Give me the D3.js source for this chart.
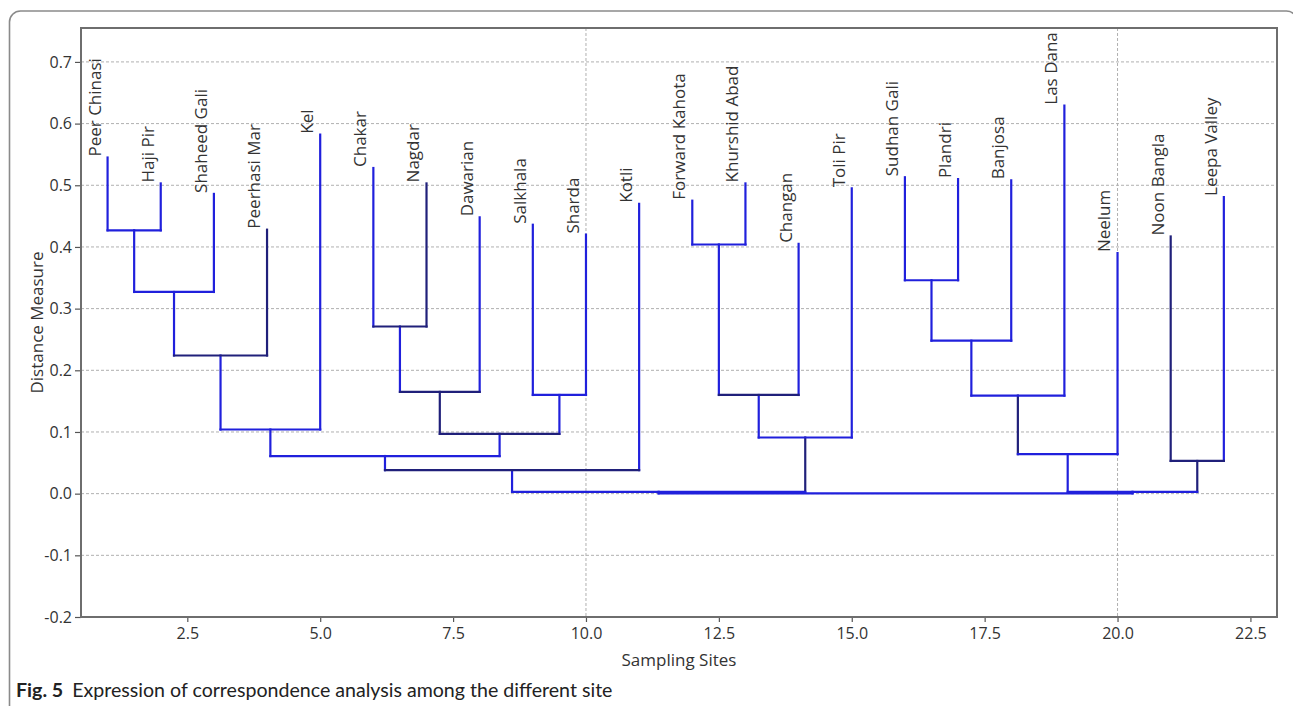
<!DOCTYPE html>
<html><head><meta charset="utf-8">
<script src="https://cdn.jsdelivr.net/npm/d3@7"></script>
<style>body{margin:0;background:#fff} svg{display:block}</style>
</head><body>
<svg id="chart" width="1293" height="706"></svg>
<script>
// ---------- data ----------
const sites = ["Peer Chinasi","Haji Pir","Shaheed Gali","Peerhasi Mar","Kel","Chakar","Nagdar","Dawarian","Salkhala","Sharda","Kotli","Forward Kahota","Khurshid Abad","Changan","Toli Pir","Sudhan Gali","Plandri","Banjosa","Las Dana","Neelum","Noon Bangla","Leepa Valley"];
const sitePositions = [1,2,3,4,5,6,7,8,9,10,11,12,13,14,15,16,17,18,19,20,21,22];
const leafHeights = [0.545,0.503,0.486,0.428,0.582,0.528,0.503,0.448,0.436,0.420,0.470,0.475,0.503,0.405,0.495,0.513,0.510,0.508,0.629,0.390,0.417,0.481];
// linkage: node ids 0..21 are sites, merge k creates node 22+k
const mergeLeft   = [0, 22, 23, 24, 5, 26, 8, 27, 25, 30, 11, 32, 33, 15, 35, 36, 37, 20, 31, 38, 40];
const mergeRight  = [1, 2, 3, 4, 6, 7, 9, 28, 29, 10, 12, 13, 14, 16, 17, 18, 19, 21, 34, 39, 41];
const mergeHeights= [0.427,0.327,0.224,0.104,0.271,0.165,0.160,0.097,0.061,0.038,0.404,0.160,0.091,0.346,0.248,0.159,0.064,0.053,0.003,0.003,0.0005];
const xTicks = [2.5,5,7.5,10,12.5,15,17.5,20,22.5];
const yTicks = [-0.2,-0.1,0,0.1,0.2,0.3,0.4,0.5,0.6,0.7];
const xGrid = [10,20];

// ---------- style ----------
const BLUE = "#2020dc", NAVY = "#20207a";
const darkVerticals = new Set([3, 6, 27, 34, 37, 20, 39]);
const darkHorizontals = new Set([24, 26, 27, 29, 31, 33, 39]);
const FONT = "'Open Sans', 'Noto Sans', sans-serif";

const svg = d3.select("#chart");
const L = 81, R = 1277, T = 28, B = 617;
const x = d3.scaleLinear().domain([0.5, 23]).range([L, R]);
const y = d3.scaleLinear().domain([-0.2, 0.755]).range([B, T]);

// outer rounded frame
svg.append("rect").attr("x", 9.5).attr("y", 11).attr("width", 1288).attr("height", 720)
  .attr("rx", 11).attr("fill", "none").attr("stroke", "#8a8a8a").attr("stroke-width", 1.6);

// gridlines
const g = svg.append("g");
g.selectAll(".hg").data(yTicks.filter(d => d > -0.2)).join("line")
  .attr("x1", L).attr("x2", R).attr("y1", d => y(d)).attr("y2", d => y(d))
  .attr("stroke", "#b0b0b0").attr("stroke-width", 1).attr("stroke-dasharray", "3,2");
g.selectAll(".vg").data(xGrid).join("line")
  .attr("y1", T).attr("y2", B).attr("x1", d => x(d)).attr("x2", d => x(d))
  .attr("stroke", "#b0b0b0").attr("stroke-width", 1).attr("stroke-dasharray", "3,2");

// axes
const yAxis = svg.append("g").attr("transform", `translate(${L},0)`)
  .call(d3.axisLeft(y).tickValues(yTicks).tickFormat(d => d.toFixed(1)).tickSize(6).tickPadding(3));
const xAxis = svg.append("g").attr("transform", `translate(0,${B})`)
  .call(d3.axisBottom(x).tickValues(xTicks).tickFormat(d => d.toFixed(1)).tickSize(5).tickPadding(6));
[yAxis, xAxis].forEach(a => {
  a.select(".domain").remove();
  a.selectAll(".tick line").attr("stroke", "#555").attr("stroke-width", 1.2);
  a.selectAll(".tick text").attr("fill", "#333").style("font-family", FONT).style("font-size", "16px");
});

// dendrogram geometry
const nLeaves = sites.length;
const nodeX = sitePositions.map(p => x(p));
const nodeY = leafHeights.map(h => y(h));
const parentOf = {};
mergeLeft.forEach((a, k) => {
  const id = nLeaves + k, b = mergeRight[k];
  nodeX[id] = (nodeX[a] + nodeX[b]) / 2;
  nodeY[id] = y(mergeHeights[k]);
  parentOf[a] = id; parentOf[b] = id;
});
const segs = [];
for (let id = 0; id < nodeX.length; id++) {
  if (parentOf[id] !== undefined) {
    segs.push({x1: nodeX[id], y1: nodeY[id], x2: nodeX[id], y2: nodeY[parentOf[id]], dark: darkVerticals.has(id)});
  }
}
mergeLeft.forEach((a, k) => {
  const id = nLeaves + k, b = mergeRight[k];
  segs.push({x1: nodeX[a], y1: nodeY[id], x2: nodeX[b], y2: nodeY[id], dark: darkHorizontals.has(id)});
});
svg.append("g").selectAll("line").data(segs).join("line")
  .attr("x1", d => d.x1).attr("y1", d => d.y1).attr("x2", d => d.x2).attr("y2", d => d.y2)
  .attr("stroke", d => d.dark ? NAVY : BLUE).attr("stroke-width", 2.2).attr("stroke-linecap", "square");

// leaf labels
svg.append("g").selectAll("text").data(sites).join("text")
  .attr("transform", (d, i) => `translate(${nodeX[i] - 13},${nodeY[i] - 1}) rotate(-90)`)
  .attr("dy", "0.35em").attr("text-anchor", "start")
  .attr("fill", "#333").style("font-family", FONT).style("font-size", "17px")
  .text(d => d);

// plot frame
svg.append("rect").attr("x", L).attr("y", T).attr("width", R - L).attr("height", B - T)
  .attr("fill", "none").attr("stroke", "#6e6e6e").attr("stroke-width", 2);

// axis titles
svg.append("text").attr("transform", `translate(43,${(T + B) / 2}) rotate(-90)`)
  .attr("text-anchor", "middle").attr("fill", "#333")
  .style("font-family", FONT).style("font-size", "17px").text("Distance Measure");
svg.append("text").attr("x", (L + R) / 2).attr("y", 666).attr("text-anchor", "middle").attr("fill", "#333")
  .style("font-family", FONT).style("font-size", "17px").text("Sampling Sites");

// caption
const cap = svg.append("text").attr("x", 16).attr("y", 697).attr("fill", "#222")
  .style("font-family", "Lato, 'Open Sans', sans-serif").style("font-size", "19.6px");
cap.append("tspan").style("font-weight", "bold").text("Fig. 5");
cap.append("tspan").attr("dx", 9).text("Expression of correspondence analysis among the different site");
</script>
</body></html>
